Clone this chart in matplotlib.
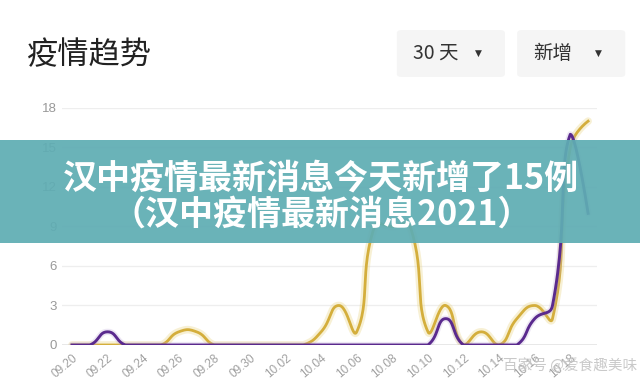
import numpy as np
import matplotlib
matplotlib.use('Agg')
import matplotlib.pyplot as plt
from matplotlib.patches import Rectangle, FancyBboxPatch

plt.rcParams['font.family'] = ['Noto Sans CJK SC', 'DejaVu Sans']

# data: 30 days, 09.20 - 10.19
dates = ['09.20', '09.21', '09.22', '09.23', '09.24', '09.25', '09.26', '09.27', '09.28', '09.29',
         '09.30', '10.01', '10.02', '10.03', '10.04', '10.05', '10.06', '10.07', '10.08', '10.09',
         '10.10', '10.11', '10.12', '10.13', '10.14', '10.15', '10.16', '10.17', '10.18', '10.19']
yellow = [0, 0, 0, 0, 0, 0, 1, 1, 0, 0,
          0, 0, 0, 0, 1, 3, 1, 9, 9, 9,
          1, 3, 0, 1, 0, 2, 3, 2, 15, 17]
purple = [0, 0, 1, 0, 0, 0, 0, 0, 0, 0,
          0, 0, 0, 0, 0, 0, 0, 0, 0, 0,
          0, 2, 0, 0, 0, 0, 2, 3, 16, 10]
yticks = [0, 3, 6, 9, 12, 15, 18]


def smooth_line(xs, ys, sx, sy, smooth=0.5, n=30):
    # echarts-4 style bezier smoothing, done in pixel space
    P = np.column_stack([np.asarray(xs, float) * sx, np.asarray(ys, float) * sy])
    lo, hi = P.min(0), P.max(0)
    out = [P[0]]
    cp0 = P[0].copy()
    t = np.linspace(0, 1, n)[1:, None]
    for i in range(1, len(P)):
        p, prev = P[i], P[i - 1]
        if i == len(P) - 1:
            v = np.zeros(2)
            ratio = 0.5
            cp1 = p.copy()
        else:
            nxt = P[i + 1]
            v = nxt - prev
            d0 = np.hypot(*(p - prev))
            d1 = np.hypot(*(nxt - p))
            ratio = d1 / (d0 + d1)
            cp1 = p - v * smooth * (1 - ratio)
        a = np.clip(cp0, lo, hi)
        b = np.clip(cp1, lo, hi)
        seg = ((1 - t) ** 3) * prev + 3 * ((1 - t) ** 2) * t * a + 3 * (1 - t) * t ** 2 * b + t ** 3 * p
        out.extend(seg)
        cp0 = p + v * smooth * ratio
    out = np.array(out)
    return out[:, 0] / sx, out[:, 1] / sy


fig = plt.figure(figsize=(6.4, 3.85), dpi=100)
ax = fig.add_axes([0.0969, 0.1039, 0.8359, 0.6156])

x = np.arange(len(dates))
px_day, px_unit = 17.8, 13.17

yx, yy = smooth_line(x, yellow, px_day, px_unit)
qx, qy = smooth_line(x, purple, px_day, px_unit)

ax.plot(yx, yy, color='#ead585', lw=5.5, alpha=0.35, solid_capstyle='round', zorder=2)
ax.plot(yx, yy, color='#d4ae3c', lw=2.0, zorder=3)
ax.plot(qx, qy, color='#b9a2d6', lw=4.5, alpha=0.25, solid_capstyle='round', zorder=4)
ax.plot(qx, qy, color='#5a2a8e', lw=2.1, zorder=5)

ax.set_xlim(-0.56, 29.5)
ax.set_ylim(0, 18)
ax.set_yticks(yticks)
ax.set_xticks(x[::2])
ax.set_xticklabels(dates[::2], rotation=40, ha='right', va='top', rotation_mode='anchor',
                   fontsize=8.5, color='#a0a0a0', family='Liberation Sans')
ax.set_yticklabels([str(v) for v in yticks], fontsize=9.5, color='#999999', family='Liberation Sans')
ax.tick_params(axis='both', length=0)
ax.tick_params(axis='y', pad=4)
ax.tick_params(axis='x', pad=5)
for s in ax.spines.values():
    s.set_visible(False)
ax.grid(axis='y', color='#eeeeee', lw=0.9)
ax.axhline(0, color='#9a9a9a', lw=1.0, zorder=1)
ax.set_axisbelow(True)

# header
fig.text(0.042, 0.857, '疫情趋势', fontsize=22.5, color='#222222', va='center', ha='left')
for x0, label in [(0.620, '30 天'), (0.808, '新增')]:
    fig.add_artist(FancyBboxPatch((x0, 0.80), 0.169, 0.122, boxstyle='round,pad=0,rounding_size=0.008',
                                  transform=fig.transFigure, fc='#f5f5f5', ec='none'))
    fig.text(x0 + 0.025, 0.861, label, fontsize=14, color='#333333', va='center', ha='left')
    fig.text(x0 + 0.122, 0.861, '▼', fontsize=6.5, color='#333333', va='center', ha='left',
             family='DejaVu Sans')

# banner over the chart
fig.add_artist(Rectangle((0, 0.3688), 1, 0.2676, transform=fig.transFigure,
                         fc='#5fadb3', ec='none', alpha=0.93, zorder=10))
fig.text(0.502, 0.537, '汉中疫情最新消息今天新增了15例', fontsize=24.5, fontweight='bold',
         color='white', ha='center', va='center', zorder=11)
fig.text(0.502, 0.444, '（汉中疫情最新消息2021）', fontsize=24.5, fontweight='bold',
         color='white', ha='center', va='center', zorder=11)

# watermark
fig.text(0.89, 0.05, '百家号 @爱食趣美味', fontsize=10.5, color='#c4c4c4', ha='center', va='center',
         alpha=0.9, zorder=12)

fig.savefig('out.png', dpi=100)
